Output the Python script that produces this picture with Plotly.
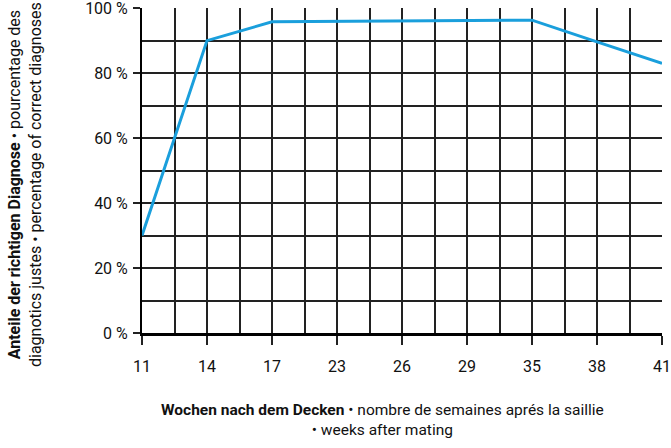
import plotly.graph_objects as go

weeks = ["11", "14", "17", "23", "26", "29", "35", "38", "41"]
correct_pct = [30, 90, 95.8, 95.9, 96.0, 96.1, 96.3, 89.6, 83]
y_ticks = [0, 20, 40, 60, 80, 100]
y_tick_labels = ["0 %", "20 %", "40 %", "60 %", "80 %", "100 %"]

FONT = "Roboto, sans-serif"
pos = list(range(len(weeks)))

L, R = 142, 9
PW = 671 - L - R

fig = go.Figure()
fig.add_trace(go.Scatter(
    x=pos, y=correct_pct, mode="lines",
    line=dict(color="#1a9fdc", width=3),
    showlegend=False, hoverinfo="skip", cliponaxis=False,
))

grid = "#222222"
fig.update_layout(
    width=671, height=448,
    margin=dict(l=L, r=R, t=8, b=115, autoexpand=False),
    paper_bgcolor="white", plot_bgcolor="white",
    font=dict(family=FONT, size=16, color="#111111"),
    xaxis=dict(
        range=[0, 8], tickmode="array", tickvals=pos, ticktext=weeks,
        showgrid=True, gridcolor=grid, gridwidth=1.5,
        minor=dict(dtick=0.5, showgrid=True, gridcolor=grid, gridwidth=1.5, ticks=""),
        showline=True, linecolor="black", linewidth=2.5,
        ticks="outside", ticklen=9, tickwidth=1.5, tickcolor=grid,
        zeroline=False, fixedrange=True, ticklabelstandoff=8, automargin=False,
        ticklabeloverflow="allow",
    ),
    yaxis=dict(
        range=[0, 100.05], tickmode="array", tickvals=y_ticks, ticktext=y_tick_labels,
        showgrid=True, gridcolor=grid, gridwidth=1.5,
        minor=dict(dtick=10, showgrid=True, gridcolor=grid, gridwidth=1.5, ticks=""),
        showline=True, linecolor="black", linewidth=2,
        ticks="outside", ticklen=7, tickwidth=1.5, tickcolor=grid,
        zeroline=False, fixedrange=True, ticklabelstandoff=2, automargin=False,
        ticklabeloverflow="allow",
    ),
    annotations=[
        dict(
            text="<b>Anteile der richtigen Diagnose</b> • pourcentage des<br>diagnotics justes • percentage of correct diagnoses",
            xref="paper", yref="paper", x=-L/PW, y=(333-185)/325, xanchor="left", yanchor="middle",
            xshift=3, textangle=-90, showarrow=False, font=dict(size=16, family=FONT), align="center",
        ),
        dict(
            text="<b>Wochen nach dem Decken</b> • nombre de semaines aprés la saillie<br>• weeks after mating",
            xref="paper", yref="paper", x=(382-L)/PW, y=-(399-333)/325, xanchor="center", yanchor="top",
            showarrow=False, font=dict(size=15.5, family=FONT), align="center",
        ),
    ],
)

fig.write_html(
    "out.html",
    config={"displayModeBar": False},
    post_script="document.body.style.margin='0';document.body.style.overflow='hidden';",
)
